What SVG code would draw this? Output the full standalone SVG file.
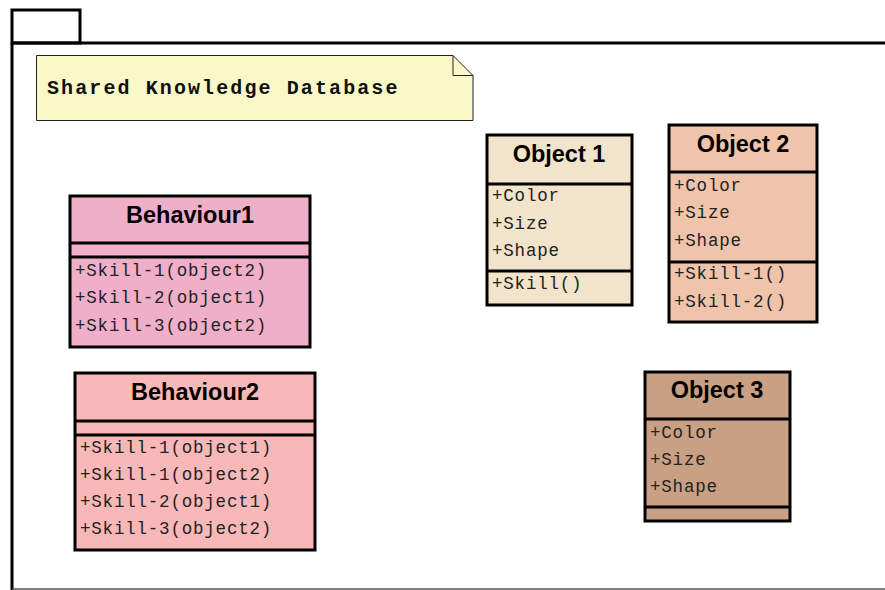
<svg xmlns="http://www.w3.org/2000/svg" width="885" height="590" viewBox="0 0 885 590">
<style>
.box{stroke:#000;stroke-width:3}
.sep{stroke:#000;stroke-width:3;fill:none}
.title{font-family:"Liberation Sans",Arial,sans-serif;font-weight:bold;font-size:23.5px;fill:#000;text-anchor:middle}
.mono{font-family:"Liberation Mono","Courier New",monospace;font-size:17.5px;letter-spacing:0.8px;fill:#222}
.note{font-family:"Liberation Mono","Courier New",monospace;font-weight:bold;font-size:20px;letter-spacing:2.1px;fill:#111}
</style>
<rect width="885" height="590" fill="#fff"/>
<g id="package">
<rect x="12" y="10" width="68" height="33" fill="#fff" stroke="#000" stroke-width="3"/>
<path d="M12 43 H886" stroke="#000" stroke-width="3" fill="none"/>
<path d="M12 43 V590" stroke="#000" stroke-width="3" fill="none"/>
<path d="M12 589 H886" stroke="#555" stroke-width="1.5" fill="none"/>
</g>
<g id="note">
<path d="M36.5 55.5 H453 L473 75.5 V120.5 H36.5 Z" fill="#FAF8C7" stroke="#222" stroke-width="1"/>
<path d="M453 55.5 V75.5 H473" fill="none" stroke="#222" stroke-width="1"/>
<text x="47" y="94" class="note">Shared Knowledge Database</text>
</g>
<g id="behaviour1">
<rect x="70" y="196" width="240" height="151" fill="#EFAFC9" class="box"/>
<path d="M70 243 H310 M70 257 H310" class="sep"/>
<text x="190" y="223" class="title">Behaviour1</text>
<text x="75" y="276" class="mono">+Skill-1(object2)</text>
<text x="75" y="303" class="mono">+Skill-2(object1)</text>
<text x="75" y="331" class="mono">+Skill-3(object2)</text>
</g>
<g id="behaviour2">
<rect x="75" y="373" width="240" height="177" fill="#F8B8B8" class="box"/>
<path d="M75 421 H315 M75 435 H315" class="sep"/>
<text x="195" y="400" class="title">Behaviour2</text>
<text x="80" y="453" class="mono">+Skill-1(object1)</text>
<text x="80" y="480" class="mono">+Skill-1(object2)</text>
<text x="80" y="507" class="mono">+Skill-2(object1)</text>
<text x="80" y="534" class="mono">+Skill-3(object2)</text>
</g>
<g id="object1">
<rect x="487" y="135" width="145" height="170" fill="#F2E4CB" class="box"/>
<path d="M487 184 H632 M487 271 H632" class="sep"/>
<text x="559" y="162" class="title">Object 1</text>
<text x="492" y="201" class="mono">+Color</text>
<text x="492" y="229" class="mono">+Size</text>
<text x="492" y="256" class="mono">+Shape</text>
<text x="492" y="289" class="mono">+Skill()</text>
</g>
<g id="object2">
<rect x="669" y="125" width="148" height="197" fill="#EFC4AB" class="box"/>
<path d="M669 172 H817 M669 262 H817" class="sep"/>
<text x="743" y="152" class="title">Object 2</text>
<text x="674" y="191" class="mono">+Color</text>
<text x="674" y="218" class="mono">+Size</text>
<text x="674" y="246" class="mono">+Shape</text>
<text x="674" y="279" class="mono">+Skill-1()</text>
<text x="674" y="307" class="mono">+Skill-2()</text>
</g>
<g id="object3">
<rect x="645" y="372" width="145" height="149" fill="#C9A084" class="box"/>
<path d="M645 419 H790 M645 507 H790" class="sep"/>
<text x="717" y="398" class="title">Object 3</text>
<text x="650" y="438" class="mono">+Color</text>
<text x="650" y="465" class="mono">+Size</text>
<text x="650" y="492" class="mono">+Shape</text>
</g>
<g id="connectors"></g>
</svg>
